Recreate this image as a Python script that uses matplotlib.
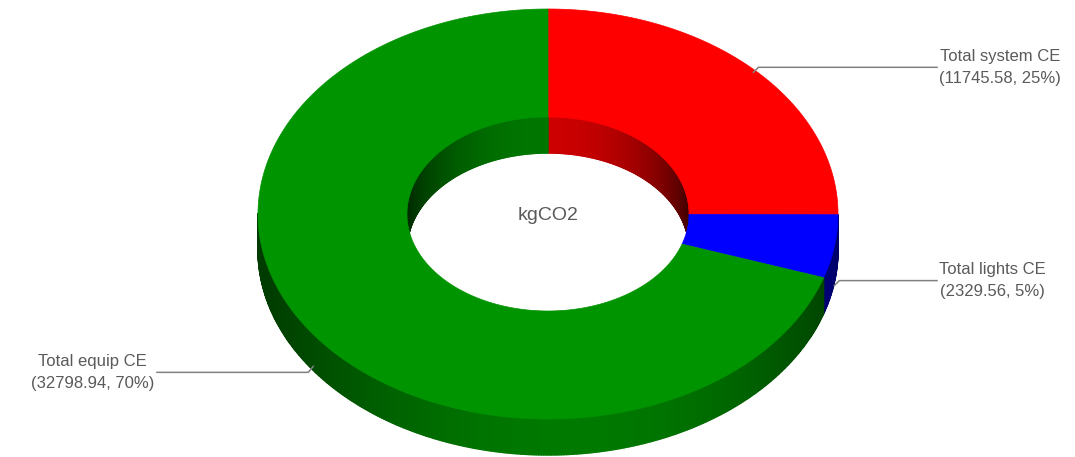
import numpy as np
import matplotlib.pyplot as plt
from matplotlib.collections import PolyCollection
from matplotlib.colors import to_rgb

# data
labels = ["Total system CE", "Total lights CE", "Total equip CE"]
values = [11745.58, 2329.56, 32798.94]
colors = ["#ff0000", "#0000ff", "#009400"]
center_label = "kgCO2"

# geometry (pixels)
cx, cy = 548, 214
rx, ry = 290, 205
rx_in, ry_in = 141, 97
depth = 36

fig = plt.figure(figsize=(10.75, 4.57), dpi=100)
ax = fig.add_axes([0, 0, 1, 1])
ax.set_xlim(0, 1075)
ax.set_ylim(457, 0)
ax.axis('off')


def pt(a, rxx, ryy, dy=0.0):
    t = np.radians(a)
    return cx + rxx * np.cos(t), cy - ryy * np.sin(t) + dy


total = sum(values)
fracs = [v / total for v in values]
starts = []
ends = []
acc = 0.0
for f in fracs:
    starts.append(90 - 360 * acc)
    acc += f
    ends.append(90 - 360 * acc)


def wall(a0, a1, rxx, ryy, col, shade, keep):
    polys, fcs = [], []
    th = np.linspace(a0, a1, max(int(abs(a1 - a0) * 2), 2))
    for i in range(len(th) - 1):
        m = (th[i] + th[i + 1]) / 2
        if not keep(m):
            continue
        x0, y0 = pt(th[i], rxx, ryy)
        x1, y1 = pt(th[i + 1], rxx, ryy)
        polys.append([(x0, y0), (x1, y1), (x1, y1 + depth), (x0, y0 + depth)])
        k = shade(m)
        fcs.append(tuple(c * k for c in to_rgb(col)))
    if polys:
        ax.add_collection(PolyCollection(polys, facecolors=fcs, edgecolors=fcs, linewidths=1.0))


def front(a):
    return np.sin(np.radians(a)) < 0


def back(a):
    return np.sin(np.radians(a)) > 0


def outer_shade(a):
    c = max(0.0, np.cos(np.radians(a + 85)))
    return 0.4 + 0.42 * c ** 2


def inner_shade(a):
    return 0.25 + 0.55 * max(0.0, np.sin(np.radians(a))) ** 1.5


# outer side walls
for a0, a1, col in zip(starts, ends, colors):
    wall(a0, a1, rx, ry, col, outer_shade, front)

# inner back walls
for a0, a1, col in zip(starts, ends, colors):
    wall(a0, a1, rx_in, ry_in, col, inner_shade, back)

# top ring
for a0, a1, col in zip(starts, ends, colors):
    th = np.linspace(a0, a1, 300)
    ox, oy = pt(th, rx, ry)
    ix, iy = pt(th[::-1], rx_in, ry_in)
    ax.fill(np.r_[ox, ix], np.r_[oy, iy], color=col, lw=0.5, ec=col)

ax.text(cx, cy + 1, center_label, ha='center', va='center', fontsize=14,
        color='#5a5a5a', family='Liberation Sans')

# labels with leader lines
for lab, v, f, a0, a1 in zip(labels, values, fracs, starts, ends):
    mid = (a0 + a1) / 2
    x, y = pt(mid, rx, ry)
    if np.sin(np.radians(mid)) < 0:
        y += depth
    txt = "%s\n(%.2f, %d%%)" % (lab, v, round(f * 100))
    if np.cos(np.radians(mid)) >= 0:
        x_end = 937
        ax.plot([x, x + 5, x_end], [y + 3, y - 2, y - 2], color='#808080', lw=1.1)
        ax.text(x_end + 2, y - 2, txt, ha='left', va='center', multialignment='center',
                fontsize=12, color='#5a5a5a', family='Liberation Sans', linespacing=1.6)
    else:
        x_end = 157
        ax.plot([x, x - 5, x_end], [y - 4, y + 2, y + 2], color='#808080', lw=1.1)
        ax.text(x_end - 3, y + 2, txt, ha='right', va='center', multialignment='center',
                fontsize=12, color='#5a5a5a', family='Liberation Sans', linespacing=1.6)

fig.savefig("out.png", dpi=100)
